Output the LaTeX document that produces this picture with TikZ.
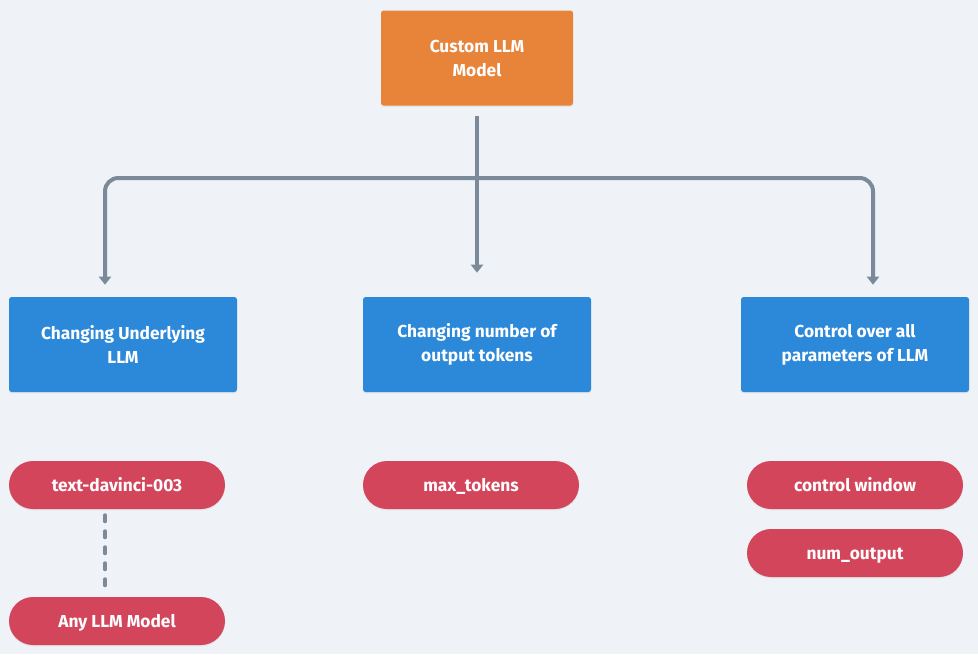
\documentclass[tikz,border=0pt]{standalone}
\usepackage{fontspec}
\setmainfont{Fira Sans}
\usetikzlibrary{arrows.meta,shadows}
\definecolor{bgcol}{HTML}{EFF3F7}
\definecolor{rootcol}{HTML}{E8833A}
\definecolor{featcol}{HTML}{2C88D9}
\definecolor{paramcol}{HTML}{D3455B}
\definecolor{wirecol}{HTML}{7B8A99}
\tikzset{
  box/.style={fill=#1, text=white, align=center, font=\fontsize{13}{18}\selectfont\bfseries,
    inner sep=0pt, drop shadow={opacity=0.12, shadow xshift=0pt, shadow yshift=-1pt}},
  root/.style={box=rootcol, rounded corners=2pt, minimum width=144pt, minimum height=71.25pt},
  feature/.style={box=featcol, rounded corners=2pt, minimum width=171pt, minimum height=71.25pt},
  param/.style={box=paramcol, rounded corners=18pt, minimum width=162pt, minimum height=36pt,
    text height=9.5pt, text depth=0pt},
  flow/.style={-{Triangle[length=6pt, width=9pt]}, wirecol, line width=3pt, rounded corners=10pt},
  hint/.style={wirecol, line width=3pt, line cap=round, dash pattern=on 4.5pt off 7.5pt},
}

\begin{document}
\begin{tikzpicture}[x=0.75pt, y=-0.75pt]
  \fill[bgcol] (0,0) rectangle (978,654);
  \useasboundingbox (0,0) rectangle (978,654);

  \node[root] (llm) at (477,58) {Custom LLM\\ Model};

  \node[feature] (under) at (123,344.5) {Changing Underlying\\ LLM};
  \node[feature] (tokens) at (477,344.5) {Changing number of\\ output tokens};
  \node[feature] (ctrl) at (855,344.5) {Control over all\\ parameters of LLM};

  \node[param] (davinci) at (117,485) {text-davinci-003};
  \node[param] (anyllm) at (117,621) {Any LLM Model};
  \node[param] (maxtok) at (471,485) {max\_tokens};
  \node[param] (window) at (855,485) {control window};
  \node[param] (numout) at (855,553) {num\_output};

  % wires out of the root
  \coordinate (stem) at ([yshift=-8pt]llm.south);
  \coordinate (fork) at (477,178);
  \draw[flow] (stem) -- ([yshift=18pt]tokens.north);
  \draw[flow] (fork) -| ([xshift=-13.5pt, yshift=9pt]under.north);
  \draw[flow] (fork) -| ([xshift=13.5pt, yshift=9pt]ctrl.north);

  \draw[hint] ([xshift=-9pt, yshift=-4.5pt]davinci.south) -- ([xshift=-9pt, yshift=8.25pt]anyllm.north);
\end{tikzpicture}
\end{document}
